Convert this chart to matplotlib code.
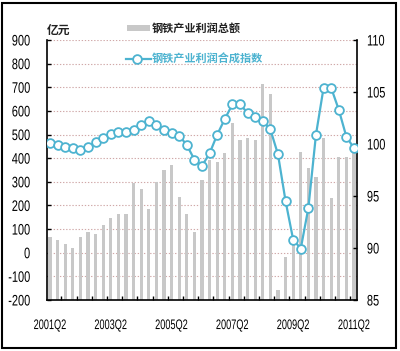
import numpy as np
import matplotlib
matplotlib.use("Agg")
import matplotlib.pyplot as plt
from matplotlib.lines import Line2D
from matplotlib.patches import Rectangle
from matplotlib.patheffects import AbstractPathEffect
from matplotlib.transforms import Affine2D

plt.rcParams['font.family'] = ['Liberation Sans', 'DejaVu Sans']

quarters = ["2001Q2", "2001Q3", "2001Q4", "2002Q1", "2002Q2", "2002Q3", "2002Q4", "2003Q1",
            "2003Q2", "2003Q3", "2003Q4", "2004Q1", "2004Q2", "2004Q3", "2004Q4", "2005Q1",
            "2005Q2", "2005Q3", "2005Q4", "2006Q1", "2006Q2", "2006Q3", "2006Q4", "2007Q1",
            "2007Q2", "2007Q3", "2007Q4", "2008Q1", "2008Q2", "2008Q3", "2008Q4", "2009Q1",
            "2009Q2", "2009Q3", "2009Q4", "2010Q1", "2010Q2", "2010Q3", "2010Q4", "2011Q1",
            "2011Q2"]
profit = [67, 54, 35, 22, 66, 87, 79, 117, 145, 164, 164, 294, 268, 184, 300, 350,
          370, 234, 164, 89, 308, 392, 385, 421, 547, 475, 487, 475, 712, 670, -157, -17,
          60, 427, 357, 322, 487, 230, 404, 404, 450]
index_vals = [100.1, 99.9, 99.75, 99.65, 99.45, 99.75, 100.15, 100.6, 100.95, 101.2, 101.2,
              101.35, 101.8, 102.2, 101.8, 101.35, 101.05, 100.8, 99.9, 98.5, 97.9, 99.1,
              100.9, 102.4, 103.8, 103.8, 103.0, 102.6, 102.2, 101.4, 99.0, 94.5, 90.8,
              89.95, 93.85, 100.9, 105.4, 105.4, 103.3, 100.7, 99.6]
left_ticks = [-200, -100, 0, 100, 200, 300, 400, 500, 600, 700, 800, 900]
right_ticks = [85, 90, 95, 100, 105, 110]
label_every = 8

bar_color = '#c8c8c8'
line_color = '#4db3d0'


class Condense(AbstractPathEffect):
    """Horizontally condense a text path around an anchor fraction of its width."""
    def __init__(self, sx, frac):
        super().__init__()
        self.sx = sx
        self.frac = frac

    def draw_path(self, renderer, gc, tpath, affine, rgbFace=None):
        ext = tpath.get_extents()
        x0 = ext.x0 + self.frac * (ext.x1 - ext.x0)
        t = Affine2D().translate(-x0, 0).scale(self.sx, 1).translate(x0, 0) + affine
        renderer.draw_path(gc, tpath, t, rgbFace)


fig = plt.figure(figsize=(4.0, 3.51), dpi=100)
ax = fig.add_axes([47/400, 1-300/351, 310/400, 260/351])
ax2 = ax.twinx()

ymin, ymax = left_ticks[0], left_ticks[-1]
x = np.arange(len(quarters))
ax.bar(x, np.array(profit) - ymin, bottom=ymin, width=0.42, color=bar_color, zorder=2)
ax.set_ylim(ymin, ymax)
ax.set_xlim(-0.4, len(quarters) - 0.6)
ax.set_yticks(left_ticks)
ax.set_yticklabels([str(t) for t in left_ticks], fontsize=11)
for t in left_ticks[1:]:
    ax.axhline(t, color='#d0a8a8', linestyle=(0, (1.2, 1.6)), linewidth=0.8, zorder=1)

ax.set_xticks(x[::label_every])
ax.set_xticklabels([quarters[i] for i in x[::label_every]], fontsize=10)
ax.set_xticks(np.arange(1.5, len(quarters) - 1, 2), minor=True)
ax.tick_params(axis='x', which='major', length=0, pad=13)
ax.tick_params(axis='x', which='minor', direction='in', length=3, width=1)
ax.tick_params(axis='y', direction='in', length=3, width=1, pad=12)

ax2.plot(x, index_vals, color=line_color, linewidth=1.6, marker='o', markersize=6.3,
         markerfacecolor='white', markeredgecolor=line_color, markeredgewidth=1.3, zorder=3)
ax2.set_ylim(right_ticks[0], right_ticks[-1])
ax2.set_yticks(right_ticks)
ax2.set_yticklabels([str(t) for t in right_ticks], fontsize=11)
ax2.tick_params(axis='y', direction='in', length=3, width=1, pad=7)

for lbl in ax.get_yticklabels():
    lbl.set_path_effects([Condense(0.72, 1.0)])
for lbl in ax2.get_yticklabels():
    lbl.set_path_effects([Condense(0.72, 0.0)])
for lbl in ax.get_xticklabels():
    lbl.set_path_effects([Condense(0.66, 0.5)])

for a in (ax, ax2):
    a.spines['top'].set_visible(False)
    for s in ('left', 'right', 'bottom'):
        a.spines[s].set_linewidth(1.2)
ax.spines['right'].set_visible(False)
ax2.spines['left'].set_visible(False)
ax2.spines['bottom'].set_visible(False)

cjk = ['Noto Sans CJK SC', 'DejaVu Sans']
fig.text(47/400, 1-30/351, '亿元', family=cjk, fontsize=8.5, weight='bold',
         va='center', ha='left', color='#222222')

# legend
fig.patches.append(Rectangle((127/400, 1-31/351), 23/400, 6/351, transform=fig.transFigure,
                             facecolor=bar_color, edgecolor='none'))
fig.text(152/400, 1-28/351, '钢铁产业利润总额', family=cjk, fontsize=8, weight='bold',
         va='center', ha='left', color='#222222')
fig.lines.append(Line2D([126/400, 151/400], [1-59/351, 1-59/351], transform=fig.transFigure,
                        color=line_color, linewidth=1.6, marker=None))
fig.lines.append(Line2D([137/400], [1-59/351], transform=fig.transFigure, color=line_color,
                        marker='o', markersize=6.3, markerfacecolor='white',
                        markeredgecolor=line_color, markeredgewidth=1.3))
fig.text(152/400, 1-59/351, '钢铁产业利润合成指数', family=cjk, fontsize=8, weight='bold',
         va='center', ha='left', color=line_color)

# outer frame
fig.patches.append(Rectangle((2/400, 3/351), 394/400, 345/351, transform=fig.transFigure,
                             facecolor='none', edgecolor='black', linewidth=1.5))

fig.savefig('out.png', dpi=100)
